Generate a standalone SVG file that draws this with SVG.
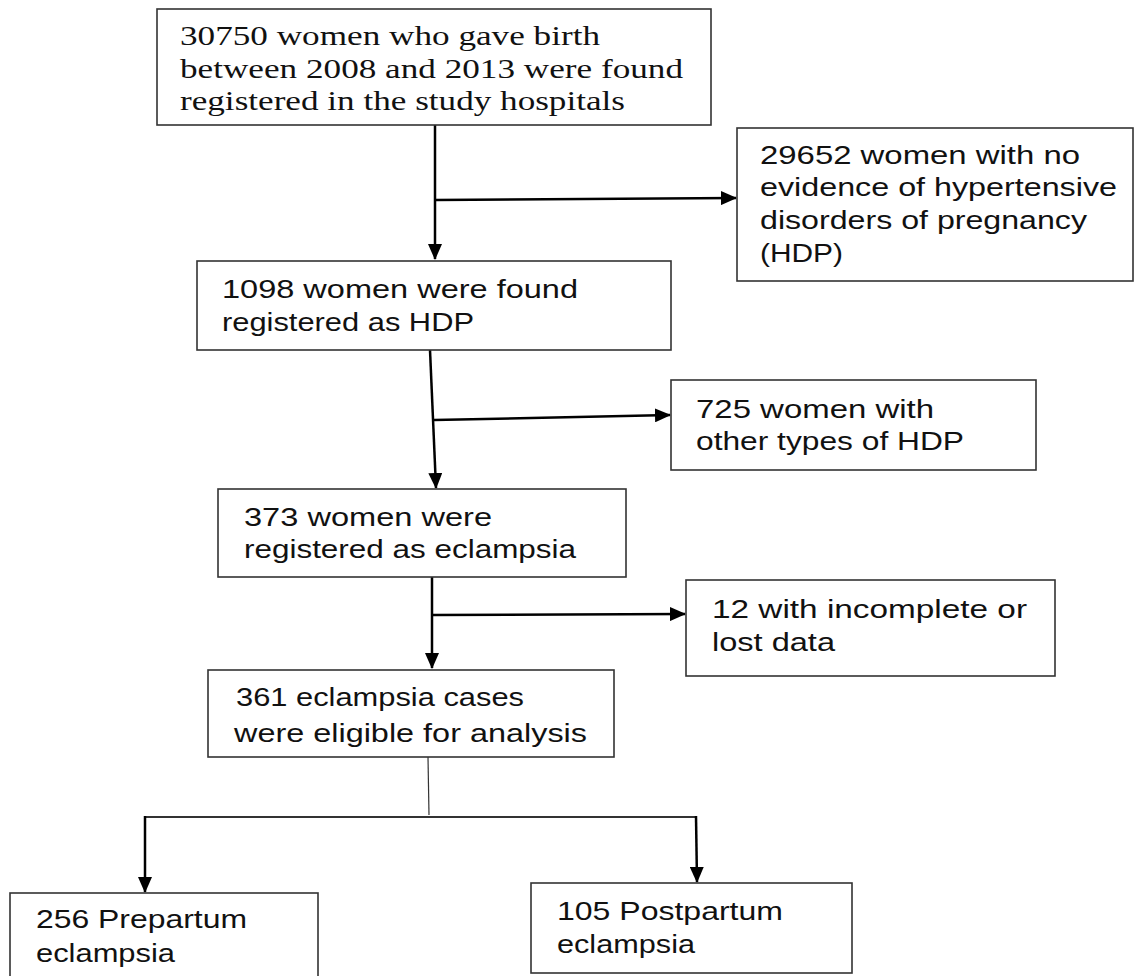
<svg xmlns="http://www.w3.org/2000/svg" width="1135" height="976" viewBox="0 0 1135 976">
<style>
.box{fill:#fff;stroke:#333;stroke-width:1.6}
.t{font-family:"Liberation Sans","DejaVu Sans",sans-serif;font-size:25px;fill:#111}
.s{font-family:"Liberation Serif","DejaVu Serif",serif;font-size:28px;fill:#111}
.c{fill:none;stroke:#000;stroke-width:2.5}
.thin{fill:none;stroke:#333;stroke-width:1.2}
</style>
<defs>
<marker id="ah" markerUnits="userSpaceOnUse" markerWidth="16" markerHeight="14" refX="15" refY="7" orient="auto">
<path d="M0,0 L16,7 L0,14 Z" fill="#000"/>
</marker>
</defs>
<rect width="1135" height="976" fill="#fff"/>
<g id="connectors">
<line class="c" x1="435" y1="125" x2="435" y2="259" marker-end="url(#ah)"/>
<line class="c" x1="435" y1="200" x2="736" y2="198" marker-end="url(#ah)"/>
<line class="c" x1="430" y1="350" x2="436" y2="488" marker-end="url(#ah)"/>
<line class="c" x1="434" y1="420" x2="670" y2="415" marker-end="url(#ah)"/>
<line class="c" x1="432" y1="577" x2="432" y2="668" marker-end="url(#ah)"/>
<line class="c" x1="432" y1="615" x2="685" y2="614" marker-end="url(#ah)"/>
<line class="thin" x1="428" y1="757" x2="429" y2="815"/>
<polyline class="thin" points="145,817 697,817" style="stroke-width:2"/>
<line class="c" x1="145" y1="816" x2="145" y2="892" marker-end="url(#ah)"/>
<line class="c" x1="696" y1="816" x2="697" y2="882" marker-end="url(#ah)"/>
</g>
<g id="n1">
<rect class="box" x="157" y="9" width="554" height="116"/>
<text class="s" x="180" y="45" textLength="420" lengthAdjust="spacingAndGlyphs">30750 women who gave birth</text>
<text class="s" x="180" y="78" textLength="503" lengthAdjust="spacingAndGlyphs">between 2008 and 2013 were found</text>
<text class="s" x="180" y="110" textLength="445" lengthAdjust="spacingAndGlyphs">registered in the study hospitals</text>
</g>
<g id="n2">
<rect class="box" x="737" y="128" width="396" height="153"/>
<text class="t" x="760" y="164" textLength="320" lengthAdjust="spacingAndGlyphs">29652 women with no</text>
<text class="t" x="760" y="196" textLength="357" lengthAdjust="spacingAndGlyphs">evidence of hypertensive</text>
<text class="t" x="760" y="229" textLength="327" lengthAdjust="spacingAndGlyphs">disorders of pregnancy</text>
<text class="t" x="760" y="262" textLength="83" lengthAdjust="spacingAndGlyphs">(HDP)</text>
</g>
<g id="n3">
<rect class="box" x="197" y="261" width="474" height="89"/>
<text class="t" x="222" y="298" textLength="356" lengthAdjust="spacingAndGlyphs">1098 women were found</text>
<text class="t" x="222" y="331" textLength="252" lengthAdjust="spacingAndGlyphs">registered as HDP</text>
</g>
<g id="n4">
<rect class="box" x="671" y="380" width="365" height="90"/>
<text class="t" x="696" y="418" textLength="238" lengthAdjust="spacingAndGlyphs">725 women with</text>
<text class="t" x="696" y="450" textLength="268" lengthAdjust="spacingAndGlyphs">other types of HDP</text>
</g>
<g id="n5">
<rect class="box" x="218" y="489" width="408" height="88"/>
<text class="t" x="244" y="526" textLength="248" lengthAdjust="spacingAndGlyphs">373 women were</text>
<text class="t" x="244" y="558" textLength="332" lengthAdjust="spacingAndGlyphs">registered as eclampsia</text>
</g>
<g id="n6">
<rect class="box" x="686" y="580" width="369" height="96"/>
<text class="t" x="712" y="618" textLength="315" lengthAdjust="spacingAndGlyphs">12 with incomplete or</text>
<text class="t" x="712" y="651" textLength="123" lengthAdjust="spacingAndGlyphs">lost data</text>
</g>
<g id="n7">
<rect class="box" x="208" y="670" width="406" height="87"/>
<text class="t" x="236" y="706" textLength="288" lengthAdjust="spacingAndGlyphs">361 eclampsia cases</text>
<text class="t" x="234" y="742" textLength="353" lengthAdjust="spacingAndGlyphs">were eligible for analysis</text>
</g>
<g id="n8">
<rect class="box" x="10" y="893" width="308" height="90"/>
<text class="t" x="36" y="928" textLength="211" lengthAdjust="spacingAndGlyphs">256 Prepartum</text>
<text class="t" x="36" y="962" textLength="139" lengthAdjust="spacingAndGlyphs">eclampsia</text>
</g>
<g id="n9">
<rect class="box" x="531" y="883" width="321" height="90"/>
<text class="t" x="557" y="920" textLength="226" lengthAdjust="spacingAndGlyphs">105 Postpartum</text>
<text class="t" x="557" y="953" textLength="138" lengthAdjust="spacingAndGlyphs">eclampsia</text>
</g>
</svg>
